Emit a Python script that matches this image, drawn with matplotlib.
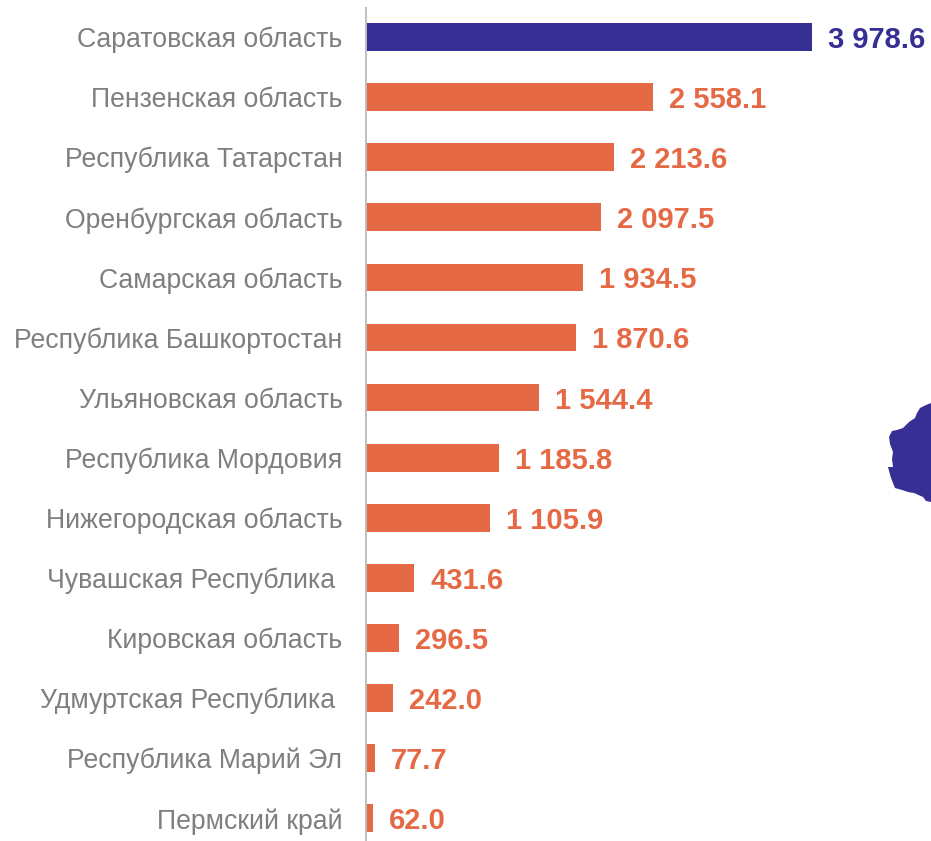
import matplotlib
matplotlib.use('Agg')
import matplotlib.pyplot as plt
from matplotlib.patches import Polygon

regiones = ['Саратовская область', 'Пензенская область', 'Республика Татарстан',
            'Оренбургская область', 'Самарская область', 'Республика Башкортостан',
            'Ульяновская область', 'Республика Мордовия', 'Нижегородская область',
            'Чувашская Республика ', 'Кировская область', 'Удмуртская Республика ',
            'Республика Марий Эл', 'Пермский край']
valores = [3978.6, 2558.1, 2213.6, 2097.5, 1934.5, 1870.6, 1544.4, 1185.8,
           1105.9, 431.6, 296.5, 242.0, 77.7, 62.0]
etiquetas = ['3 978.6', '2 558.1', '2 213.6', '2 097.5', '1 934.5', '1 870.6', '1 544.4',
             '1 185.8', '1 105.9', '431.6', '296.5', '242.0', '77.7', '62.0']
# silueta del mapa que asoma por el borde derecho (en pixeles de la imagen)
mapa_x = [931, 926, 920, 917, 915, 909, 903, 897, 892, 889, 890, 893, 892, 893, 888,
          891, 895, 902, 908, 914, 923, 926, 931]
mapa_y = [403, 405, 408, 413, 418, 422, 428, 430, 431, 437, 444, 452, 459, 467, 467,
          478, 488, 490, 492, 493, 497, 501, 502]

azul = '#372F94'
naranja = '#E56945'
gris = '#7F7F7F'

plt.rcParams['font.family'] = ['Liberation Sans', 'DejaVu Sans']

fig = plt.figure(figsize=(9.31, 8.41), dpi=100)
ax = fig.add_axes([366/931, 0, (931-366)/931, 1 - 8/841])

escala = (812 - 366) / 3978.6
ax.set_xlim(0, (931 - 366) / escala)
# filas separadas 60.1 px, la primera centrada en y=37
ax.set_ylim((841 - 37) / 60.1, (8 - 37) / 60.1)

posiciones = list(range(len(regiones)))
colores = [azul] + [naranja] * (len(regiones) - 1)
ax.barh(posiciones, valores, height=0.46, color=colores)

for p, v, t, c in zip(posiciones, valores, etiquetas, colores):
    ax.annotate(t, (v, p), xytext=(16, -3), textcoords='offset pixels', va='center',
                ha='left', color=c, fontsize=21, fontweight='bold')

ax.set_yticks(posiciones, regiones)
ax.tick_params(axis='y', length=0, pad=17, labelsize=19.2, labelcolor=gris)
ax.xaxis.set_visible(False)
for lado in ['top', 'right', 'bottom']:
    ax.spines[lado].set_visible(False)
ax.spines['left'].set_color('#BFBFBF')
ax.spines['left'].set_linewidth(1.4)

fig.add_artist(Polygon([(x / 931, 1 - y / 841) for x, y in zip(mapa_x, mapa_y)],
                       closed=True, facecolor=azul, edgecolor='none',
                       transform=fig.transFigure))

fig.savefig('out.png', dpi=100)
